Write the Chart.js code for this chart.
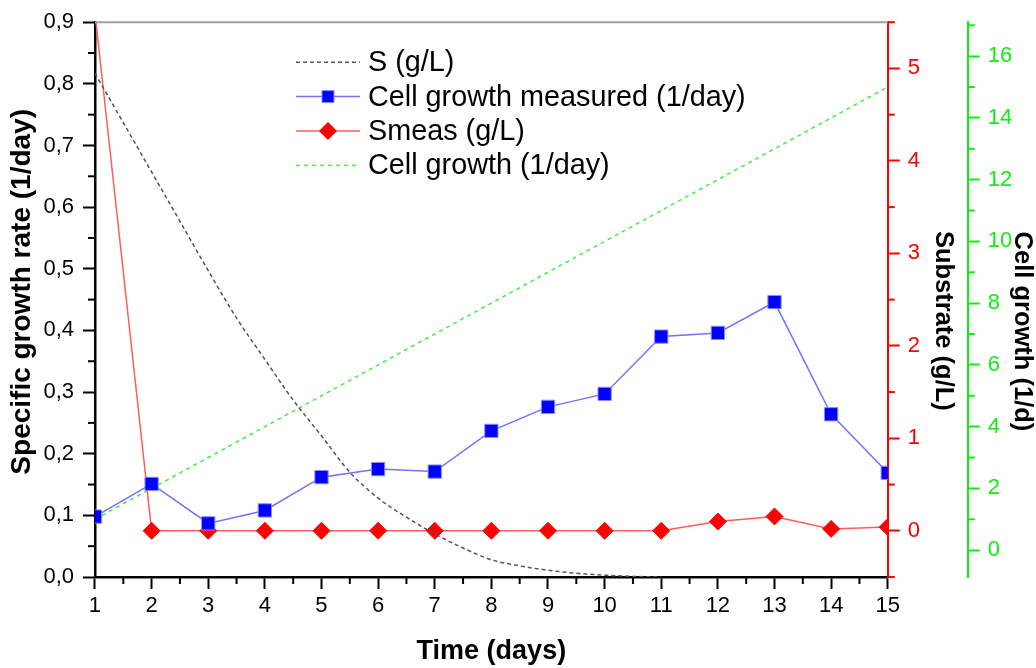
<!DOCTYPE html>
<html>
<head>
<meta charset="utf-8">
<script src="https://cdn.jsdelivr.net/npm/chart.js"></script>
<style>
  html, body { margin: 0; padding: 0; background: #fff; }
  #wrap { width: 1036px; height: 668px; position: relative; }
</style>
</head>
<body>
<div id="wrap"><canvas id="growthChart"></canvas></div>
<script>
// days on the x axis
const days = [1, 2, 3, 4, 5, 6, 7, 8, 9, 10, 11, 12, 13, 14, 15];

// S (g/L), model curve
const sTime = [1, 1.5, 2, 2.5, 3, 3.5, 4, 4.5, 5, 5.5, 6, 6.5, 7, 7.5, 8, 8.5, 9, 9.5, 10, 10.5, 11];
const sValues = [0.817, 0.737, 0.657, 0.577, 0.497, 0.42, 0.353, 0.287, 0.229, 0.17, 0.128, 0.097, 0.07, 0.047, 0.028, 0.018, 0.011, 0.006, 0.003, 0.001, 0];

// measured specific growth rate (1/day), left axis
const measuredGrowth = [0.098, 0.151, 0.087, 0.108, 0.162, 0.175, 0.171, 0.237, 0.276, 0.297, 0.39, 0.396, 0.446, 0.264, 0.169];

// measured substrate (g/L), red axis
const sMeas = [5.6, 0, 0, 0, 0, 0, 0, 0, 0, 0, 0, 0.1, 0.155, 0.02, 0.04];

// cell growth (1/day), green axis
const cellGrowth = [1, 2, 3, 4, 5, 6, 7, 8, 9, 10, 11, 12, 13, 14, 15];

// tick values / labels
const leftTickValues = [0, 0.1, 0.2, 0.3, 0.4, 0.5, 0.6, 0.7, 0.8, 0.9];
const leftTickLabels = ["0,0", "0,1", "0,2", "0,3", "0,4", "0,5", "0,6", "0,7", "0,8", "0,9"];
const substrateTicks = [0, 1, 2, 3, 4, 5];
const cellGrowthTicks = [0, 2, 4, 6, 8, 10, 12, 14, 16];

const FONT = "'Liberation Sans', Arial, sans-serif";
Chart.defaults.font.family = FONT;
Chart.defaults.color = "#000";

const setTicks = (values) => (axis) => {
  axis.ticks = values.map((v) => ({ value: v }));
};

// short minor ticks halfway between the major ones
const minorStep = { x: 0.5, y: 0.05, ySub: 0.5, yCell: 1 };
const minorTicks = {
  id: "minorTicks",
  afterDraw(chart) {
    const ctx = chart.ctx;
    const area = chart.chartArea;
    ctx.save();
    ctx.lineWidth = 2;
    Object.keys(minorStep).forEach((id) => {
      const scale = chart.scales[id];
      const step = minorStep[id];
      const vals = scale.ticks.map((t) => t.value - step);
      vals.push(scale.ticks[scale.ticks.length - 1].value + step);
      ctx.strokeStyle = scale.options.border.color;
      vals.forEach((v) => {
        if (v < scale.min - 1e-9 || v > scale.max + 1e-9) return;
        const p = scale.getPixelForValue(v);
        ctx.beginPath();
        if (id === "x") {
          ctx.moveTo(p, area.bottom);
          ctx.lineTo(p, area.bottom + 7);
        } else if (id === "y") {
          ctx.moveTo(area.left, p);
          ctx.lineTo(area.left - 7, p);
        } else {
          ctx.moveTo(scale.left, p);
          ctx.lineTo(scale.left + 7, p);
        }
        ctx.stroke();
      });
    });
    // grey top frame line
    ctx.strokeStyle = "#a0a0a0";
    ctx.beginPath();
    ctx.moveTo(area.left, area.top);
    ctx.lineTo(area.right, area.top);
    ctx.stroke();
    ctx.restore();
  },
};

// legend drawn inside the plot
const insideLegend = {
  id: "insideLegend",
  afterDraw(chart) {
    const ctx = chart.ctx;
    const area = chart.chartArea;
    const x0 = area.left + 201;
    const y0 = area.top + 40;
    const rowH = 34.4;
    ctx.save();
    ctx.font = "28.8px " + FONT;
    ctx.textBaseline = "middle";
    chart.data.datasets.forEach((ds, i) => {
      const y = y0 + i * rowH;
      ctx.strokeStyle = ds.borderColor;
      ctx.lineWidth = ds.borderWidth;
      ctx.setLineDash(ds.borderDash || []);
      ctx.beginPath();
      ctx.moveTo(x0, y);
      ctx.lineTo(x0 + 64, y);
      ctx.stroke();
      ctx.setLineDash([]);
      const cx = x0 + 32;
      if (ds.pointStyle === "rect") {
        ctx.fillStyle = ds.pointBackgroundColor;
        ctx.strokeStyle = ds.pointBorderColor;
        ctx.lineWidth = 1;
        ctx.fillRect(cx - 6, y - 6, 12, 12);
        ctx.strokeRect(cx - 6, y - 6, 12, 12);
      } else if (ds.pointStyle === "rectRot") {
        ctx.fillStyle = ds.pointBackgroundColor;
        ctx.beginPath();
        ctx.moveTo(cx - 9, y);
        ctx.lineTo(cx, y - 9);
        ctx.lineTo(cx + 9, y);
        ctx.lineTo(cx, y + 9);
        ctx.closePath();
        ctx.fill();
      }
      ctx.fillStyle = "#000";
      ctx.fillText(ds.label, x0 + 72, y + 1);
    });
    ctx.restore();
  },
};

const ctx = document.getElementById("growthChart").getContext("2d");
const growthChart = new Chart(ctx, {
  type: "line",
  data: {
    datasets: [
      {
        label: "S (g/L)",
        data: sTime.map((t, i) => ({ x: t, y: sValues[i] })),
        yAxisID: "y",
        borderColor: "#555555",
        borderWidth: 1.5,
        borderDash: [4, 3],
        pointRadius: 0,
        cubicInterpolationMode: "monotone",
      },
      {
        label: "Cell growth measured (1/day)",
        data: days.map((d, i) => ({ x: d, y: measuredGrowth[i] })),
        yAxisID: "y",
        borderColor: "#7272ff",
        borderWidth: 1.5,
        pointStyle: "rect",
        pointRadius: 9.4,
        pointBackgroundColor: "#0000ff",
        pointBorderColor: "#8c8cff",
        pointBorderWidth: 1,
      },
      {
        label: "Smeas (g/L)",
        data: days.map((d, i) => ({ x: d, y: sMeas[i] })),
        yAxisID: "ySub",
        borderColor: "#ff5c5c",
        borderWidth: 1.5,
        pointStyle: "rectRot",
        pointRadius: 8.5,
        pointBackgroundColor: "#ff0000",
        pointBorderColor: "#ff0000",
        pointBorderWidth: 1,
      },
      {
        label: "Cell growth (1/day)",
        data: days.map((d, i) => ({ x: d, y: cellGrowth[i] })),
        yAxisID: "yCell",
        borderColor: "#44ee44",
        borderWidth: 1.5,
        borderDash: [4, 4],
        pointRadius: 0,
      },
    ],
  },
  options: {
    responsive: true,
    maintainAspectRatio: false,
    animation: false,
    layout: { padding: { left: 0, top: 22, right: 0, bottom: 0 } },
    plugins: {
      legend: { display: false },
      tooltip: { enabled: false },
    },
    scales: {
      x: {
        type: "linear",
        position: "bottom",
        min: 1,
        max: 15,
        afterBuildTicks: setTicks(days),
        border: { color: "#000", width: 2.5 },
        grid: { drawOnChartArea: false, tickLength: 12, tickColor: "#000", tickWidth: 2 },
        ticks: { font: { size: 22 }, padding: 4, autoSkip: false, maxRotation: 0, callback: (v) => String(v) },
        title: {
          display: true,
          text: "Time (days)",
          font: { size: 27, weight: "bold" },
          padding: { top: 12, bottom: 0.2 },
        },
      },
      y: {
        type: "linear",
        position: "left",
        min: 0,
        max: 0.9,
        afterBuildTicks: setTicks(leftTickValues),
        border: { color: "#000", width: 2.5 },
        grid: { drawOnChartArea: false, tickLength: 12, tickColor: "#000", tickWidth: 2 },
        ticks: { font: { size: 22 }, padding: 9, autoSkip: false, callback: (v, i) => leftTickLabels[i] },
        title: {
          display: true,
          text: "  Specific growth rate (1/day)",
          font: { size: 28, weight: "bold", lineHeight: 0.85 },
          padding: { top: 10.4, bottom: 0.2 },
        },
      },
      ySub: {
        type: "linear",
        position: "right",
        weight: 0,
        min: -0.5,
        max: 5.5,
        afterBuildTicks: setTicks(substrateTicks),
        border: { color: "#ff0000", width: 2 },
        grid: { drawOnChartArea: false, tickLength: 12, tickColor: "#ff0000", tickWidth: 2 },
        ticks: { font: { size: 22 }, padding: 8, color: "#ff0000", autoSkip: false, callback: (v) => String(v) },
        title: {
          display: true,
          text: "      Substrate (g/L)",
          font: { size: 25.5, weight: "bold", lineHeight: 1 },
          padding: { top: 11.75, bottom: 2.55 },
        },
      },
      yCell: {
        type: "linear",
        position: "right",
        weight: 1,
        min: -0.87,
        max: 17.1,
        afterBuildTicks: setTicks(cellGrowthTicks),
        border: { color: "#11ee11", width: 2 },
        grid: { drawOnChartArea: false, tickLength: 12, tickColor: "#11ee11", tickWidth: 2 },
        ticks: { font: { size: 22 }, padding: 8, color: "#11ee11", autoSkip: false, callback: (v) => String(v) },
        title: {
          display: true,
          text: "         Cell growth (1/d)",
          font: { size: 25.5, weight: "bold", lineHeight: 0.16 },
          padding: { top: 11.66, bottom: 0 },
        },
      },
    },
  },
  plugins: [minorTicks, insideLegend],
});
</script>
</body>
</html>
